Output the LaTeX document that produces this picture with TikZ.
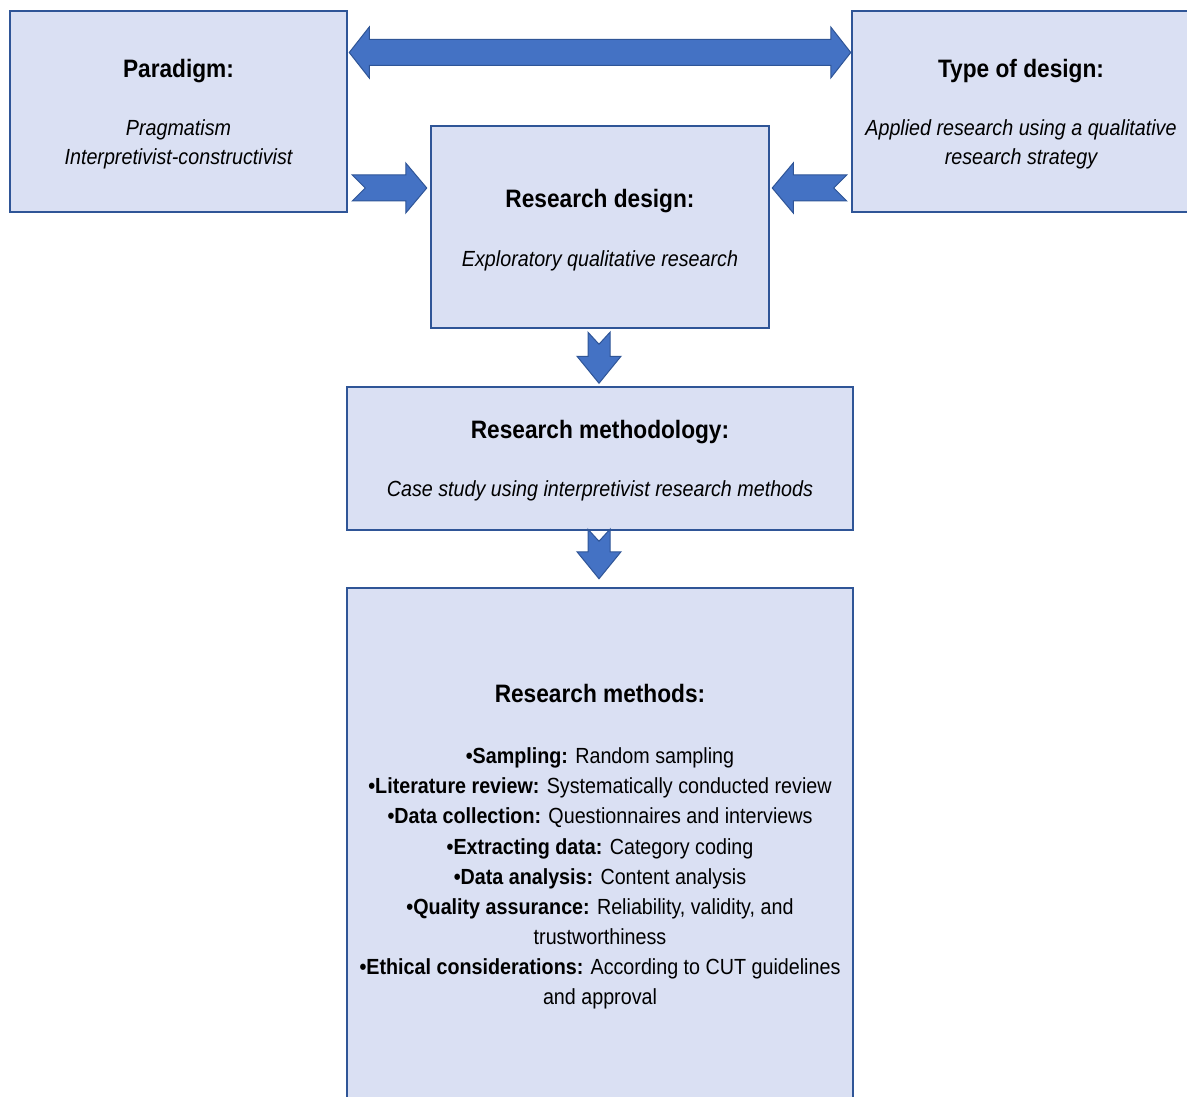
\documentclass[tikz,border=0pt]{standalone}
\usepackage{fontspec}
\setmainfont{Liberation Sans}[FakeStretch=0.9]
\usetikzlibrary{calc}
\definecolor{boxfill}{HTML}{DAE0F3}
\definecolor{boxline}{HTML}{2F5597}
\definecolor{arrowfill}{HTML}{4472C4}
\definecolor{arrowline}{HTML}{2F5597}
\begin{document}
\begin{tikzpicture}[x=1pt,y=-1pt,
 box/.style={rectangle, draw=boxline, fill=boxfill, line width=2.5pt, inner sep=0pt},
 ttl/.style={anchor=base, inner sep=0pt, font=\bfseries\fontsize{25.2}{30}\selectfont},
 itx/.style={anchor=base, inner sep=0pt, font=\itshape\fontsize{21.9}{26}\selectfont},
 btx/.style={anchor=base, inner sep=0pt, font=\fontsize{21.9}{26}\selectfont},
 blockarrow/.style={fill=arrowfill, draw=arrowline, line width=1pt, line join=miter}]
\useasboundingbox (0,0) rectangle (1187,1097);
\clip (0,0) rectangle (1187,1097);
\fill[white] (0,0) rectangle (1187,1097);

% boxes
\node[box, minimum width=337pt, minimum height=201pt] (par) at (178.5,111.5) {};
\node[box, minimum width=338pt, minimum height=201pt] (typ) at (1021,111.5) {};
\node[box, minimum width=338pt, minimum height=202pt] (des) at (600,227) {};
\node[box, minimum width=506pt, minimum height=143pt] (meth) at (600,458.5) {};
\node[box, minimum width=506pt, minimum height=512pt] (mths) at (600,844) {};

% texts
\node[ttl] (parT) at (178.5,77.5) {Paradigm:};
\node[itx] (parA) at (178.5,136) {Pragmatism};
\node[itx] (parB) at (178.5,165) {Interpretivist-constructivist};

\node[ttl] (typT) at (1021,77.5) {Type of design:};
\node[itx] (typA) at (1021,136) {Applied research using a qualitative};
\node[itx] (typB) at (1021,165) {research strategy};

\node[ttl] (desT) at (600,207.5) {Research design:};
\node[itx] (desA) at (600,266) {Exploratory qualitative research};

\node[ttl] (methT) at (600,438.5) {Research methodology:};
\node[itx] (methA) at (600,496) {Case study using interpretivist research methods};

\node[ttl] (mthsT) at (600,702.5) {Research methods:};
\node[btx] (m1) at (600,763.5) {\textbf{•Sampling:} Random sampling};
\node[btx] (m2) at (600,793.5) {\textbf{•Literature review:} Systematically conducted review};
\node[btx] (m3) at (600,823.5) {\textbf{•Data collection:} Questionnaires and interviews};
\node[btx] (m4) at (600,854) {\textbf{•Extracting data:} Category coding};
\node[btx] (m5) at (600,884) {\textbf{•Data analysis:} Content analysis};
\node[btx] (m6) at (600,914.5) {\textbf{•Quality assurance:} Reliability, validity, and};
\node[btx] (m7) at (600,944.5) {trustworthiness};
\node[btx] (m8) at (600,974.5) {\textbf{•Ethical considerations:} According to CUT guidelines};
\node[btx] (m9) at (600,1004.5) {and approval};

% double arrow paradigm <-> type
\coordinate (dL) at ($(par.east)+(1,-59)$);
\coordinate (dR) at ($(typ.west)+(0,-59)$);
\draw[blockarrow] (dL) -- ++(20,-25.5) -- ++(0,12.5) -- ($(dR)+(-20,-13)$) -- ++(0,-12.5) -- (dR) -- ++(-20,25.5) -- ++(0,-12.5) -- ($(dL)+(20,13)$) -- ++(0,12.5) -- cycle;

% paradigm -> design
\coordinate (lS) at ($(par.east)+(4,76.5)$);
\coordinate (lE) at ($(des.west)+(-3,-39)$);
\draw[blockarrow] (lE) -- ++(-21,-25) -- ++(0,12) -- ($(lS)+(0,-13)$) -- ++(13,13) -- ++(-13,13) -- ($(lE)+(-21,13)$) -- ++(0,12) -- cycle;

% type -> design
\coordinate (rS) at ($(typ.west)+(-4,76.5)$);
\coordinate (rE) at ($(des.east)+(2,-39)$);
\draw[blockarrow] (rE) -- ++(21,-25) -- ++(0,12) -- ($(rS)+(0,-13)$) -- ++(-13,13) -- ++(13,13) -- ($(rE)+(21,13)$) -- ++(0,12) -- cycle;

% design -> methodology
\coordinate (d1S) at ($(des.south)+(-1,3)$);
\coordinate (d1E) at ($(meth.north)+(-1,-2.5)$);
\draw[blockarrow] (d1E) -- ++(-22,-27) -- ++(11,0) -- ($(d1S)+(-11,0)$) -- ++(11,12) -- ++(11,-12) -- ($(d1E)+(11,-27)$) -- ++(11,0) -- cycle;

% methodology -> methods
\coordinate (d2S) at ($(meth.south)+(-1,-2)$);
\coordinate (d2E) at ($(mths.north)+(-1,-8)$);
\draw[blockarrow] (d2E) -- ++(-22,-27) -- ++(11,0) -- ($(d2S)+(-11,0)$) -- ++(11,12) -- ++(11,-12) -- ($(d2E)+(11,-27)$) -- ++(11,0) -- cycle;
\end{tikzpicture}
\end{document}
